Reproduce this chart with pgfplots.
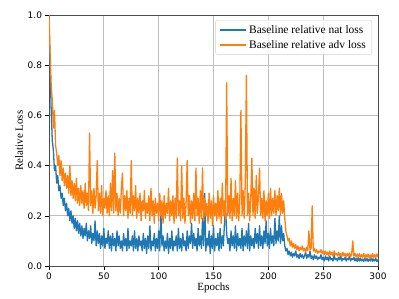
\documentclass[border=0pt]{standalone}
\usepackage{fontspec}
\setmainfont{Liberation Serif}
\newfontfamily\dejavu{DejaVu Sans}
\usepackage{pgfplots}
\usepackage{pgfplotstable}
\pgfplotsset{compat=1.18}
\definecolor{mblue}{HTML}{1F77B4}
\definecolor{morange}{HTML}{FF7F0E}
\pgfplotstableread{
x nat adv
0 0.98 1.00
1 0.80 0.85
2 0.62 0.72
3 0.50 0.66
4 0.46 0.55
5 0.38 0.62
6 0.40 0.48
7 0.33 0.45
8 0.36 0.40
9 0.30 0.44
10 0.32 0.36
11 0.27 0.42
12 0.29 0.34
13 0.24 0.39
14 0.27 0.32
15 0.22 0.37
16 0.25 0.31
17 0.20 0.36
18 0.23 0.29
19 0.18 0.40
20 0.22 0.28
21 0.17 0.34
22 0.20 0.27
23 0.15 0.33
24 0.19 0.26
25 0.14 0.35
26 0.18 0.25
27 0.13 0.31
28 0.17 0.24
29 0.12 0.32
30 0.16 0.25
31 0.11 0.30
32 0.15 0.23
33 0.12 0.33
34 0.17 0.24
35 0.10 0.29
36 0.14 0.22
37 0.11 0.53
38 0.16 0.24
39 0.09 0.30
40 0.13 0.21
41 0.10 0.31
42 0.18 0.23
43 0.08 0.28
44 0.14 0.42
45 0.09 0.22
46 0.13 0.29
47 0.07 0.21
48 0.12 0.32
49 0.08 0.20
50 0.15 0.27
51 0.07 0.23
52 0.11 0.30
53 0.09 0.21
54 0.14 0.28
55 0.07 0.20
56 0.12 0.33
57 0.06 0.22
58 0.13 0.38
59 0.08 0.21
60 0.11 0.45
61 0.06 0.22
62 0.14 0.29
63 0.08 0.20
64 0.12 0.27
65 0.07 0.21
66 0.10 0.31
67 0.06 0.37
68 0.13 0.20
69 0.08 0.28
70 0.11 0.22
71 0.06 0.30
72 0.15 0.19
73 0.07 0.27
74 0.10 0.21
75 0.08 0.42
76 0.12 0.20
77 0.06 0.28
78 0.14 0.22
79 0.07 0.32
80 0.11 0.19
81 0.06 0.27
82 0.12 0.21
83 0.08 0.29
84 0.10 0.18
85 0.06 0.26
86 0.13 0.22
87 0.07 0.30
88 0.11 0.19
89 0.05 0.25
90 0.12 0.21
91 0.07 0.28
92 0.16 0.18
93 0.06 0.31
94 0.10 0.20
95 0.08 0.26
96 0.13 0.17
97 0.06 0.27
98 0.11 0.21
99 0.07 0.25
100 0.14 0.18
101 0.06 0.29
102 0.22 0.20
103 0.08 0.26
104 0.12 0.17
105 0.06 0.28
106 0.10 0.19
107 0.07 0.25
108 0.13 0.21
109 0.05 0.31
110 0.11 0.18
111 0.07 0.26
112 0.14 0.20
113 0.06 0.28
114 0.10 0.17
115 0.08 0.27
116 0.12 0.19
117 0.06 0.43
118 0.15 0.20
119 0.07 0.26
120 0.11 0.18
121 0.06 0.40
122 0.13 0.19
123 0.08 0.27
124 0.10 0.17
125 0.06 0.25
126 0.14 0.42
127 0.07 0.20
128 0.12 0.28
129 0.09 0.17
130 0.17 0.26
131 0.07 0.19
132 0.13 0.29
133 0.08 0.18
134 0.11 0.39
135 0.06 0.20
136 0.15 0.27
137 0.08 0.17
138 0.12 0.30
139 0.07 0.19
140 0.19 0.39
141 0.08 0.18
142 0.29 0.27
143 0.06 0.20
144 0.11 0.25
145 0.08 0.17
146 0.14 0.29
147 0.05 0.19
148 0.12 0.26
149 0.07 0.16
150 0.16 0.28
151 0.06 0.20
152 0.11 0.25
153 0.08 0.18
154 0.13 0.30
155 0.06 0.19
156 0.15 0.27
157 0.07 0.17
158 0.12 0.33
159 0.08 0.20
160 0.17 0.26
161 0.24 0.18
162 0.13 0.73
163 0.09 0.20
164 0.11 0.28
165 0.06 0.19
166 0.14 0.35
167 0.08 0.18
168 0.12 0.27
169 0.07 0.20
170 0.16 0.34
171 0.06 0.19
172 0.13 0.29
173 0.08 0.18
174 0.11 0.26
175 0.07 0.62
176 0.15 0.20
177 0.06 0.30
178 0.12 0.19
179 0.08 0.33
180 0.14 0.76
181 0.07 0.20
182 0.17 0.29
183 0.06 0.18
184 0.12 0.27
185 0.08 0.43
186 0.11 0.20
187 0.07 0.31
188 0.15 0.19
189 0.09 0.36
190 0.13 0.21
191 0.07 0.28
192 0.16 0.39
193 0.08 0.20
194 0.12 0.27
195 0.07 0.19
196 0.14 0.30
197 0.09 0.18
198 0.18 0.26
199 0.08 0.20
200 0.13 0.29
201 0.07 0.19
202 0.15 0.31
203 0.09 0.20
204 0.12 0.27
205 0.08 0.21
206 0.19 0.30
207 0.09 0.20
208 0.14 0.28
209 0.10 0.22
210 0.20 0.31
211 0.09 0.20
212 0.16 0.29
213 0.10 0.21
214 0.13 0.26
215 0.08 0.19
216 0.06 0.14
217 0.07 0.12
218 0.045 0.10
219 0.06 0.11
220 0.04 0.08
221 0.055 0.10
222 0.035 0.075
223 0.05 0.09
224 0.04 0.07
225 0.06 0.085
226 0.035 0.065
227 0.045 0.08
228 0.03 0.06
229 0.05 0.075
230 0.035 0.065
231 0.045 0.08
232 0.03 0.06
233 0.04 0.07
234 0.055 0.055
235 0.03 0.075
236 0.045 0.06
237 0.035 0.14
238 0.06 0.065
239 0.03 0.07
240 0.04 0.24
241 0.025 0.06
242 0.045 0.07
243 0.03 0.055
244 0.04 0.065
245 0.025 0.05
246 0.035 0.06
247 0.03 0.055
248 0.045 0.065
249 0.025 0.05
250 0.035 0.06
251 0.02 0.045
252 0.04 0.06
253 0.025 0.045
254 0.035 0.055
255 0.02 0.04
256 0.04 0.06
257 0.025 0.045
258 0.03 0.055
259 0.02 0.04
260 0.045 0.06
261 0.025 0.045
262 0.03 0.05
263 0.02 0.04
264 0.035 0.055
265 0.025 0.04
266 0.04 0.05
267 0.02 0.038
268 0.03 0.055
269 0.025 0.04
270 0.035 0.05
271 0.02 0.035
272 0.03 0.05
273 0.025 0.04
274 0.04 0.052
275 0.02 0.036
276 0.03 0.048
277 0.025 0.10
278 0.035 0.04
279 0.02 0.05
280 0.03 0.035
281 0.018 0.048
282 0.035 0.036
283 0.02 0.05
284 0.03 0.034
285 0.02 0.045
286 0.028 0.035
287 0.018 0.05
288 0.032 0.032
289 0.02 0.045
290 0.03 0.035
291 0.018 0.048
292 0.028 0.032
293 0.02 0.044
294 0.035 0.034
295 0.018 0.05
296 0.028 0.032
297 0.02 0.045
298 0.03 0.034
299 0.018 0.048
300 0.025 0.036
}\data
\begin{document}
\begin{tikzpicture}
\path[use as bounding box] (-49bp,-33bp) rectangle (350bp,266bp);
\begin{axis}[
  at={(0,0)}, anchor=south west,
  scale only axis, width=329bp, height=251bp,
  xmin=0, xmax=300, ymin=0, ymax=1,
  xtick={0,50,100,150,200,250,300},
  ytick={0,0.2,0.4,0.6,0.8,1},
  /pgf/number format/assume math mode=true,
  yticklabel style={/pgf/number format/.cd, fixed, fixed zerofill, precision=1},
  ticklabel style={font=\dejavu\fontsize{9}{11}\selectfont},
  tick align=outside,
  xtick pos=lower, ytick pos=left,
  major tick length=3.5bp,
  tick style={black, line width=0.6pt},
  grid=major,
  grid style={color=gray!50, line width=0.7pt},
  axis line style={black!70, line width=0.7pt},
  xlabel={Epochs}, ylabel={Relative Loss},
  label style={font=\fontsize{11}{13}\selectfont},
  xlabel style={at={(axis description cs:0.5,-0.088)}, anchor=center},
  ylabel style={at={(axis description cs:-0.091,0.5)}, anchor=center},
  legend style={at={(0.982,0.98)}, anchor=north east, draw=gray!35, rounded corners=2pt,
    fill=white, fill opacity=0.8, text opacity=1, font=\fontsize{11.5}{13}\selectfont,
    row sep=1.5bp, inner xsep=4bp, inner ysep=3bp},
  legend cell align=left,
  legend image code/.code={\draw[#1, line width=1.5pt] (0bp,0bp) -- (26bp,0bp);},
]
\addplot[mblue, line width=1.3pt, line join=round] table[x=x, y=nat]{\data};
\addlegendentry{Baseline relative nat loss}
\addplot[morange, line width=1.3pt, line join=round] table[x=x, y=adv]{\data};
\addlegendentry{Baseline relative adv loss}
\end{axis}
\end{tikzpicture}
\end{document}
